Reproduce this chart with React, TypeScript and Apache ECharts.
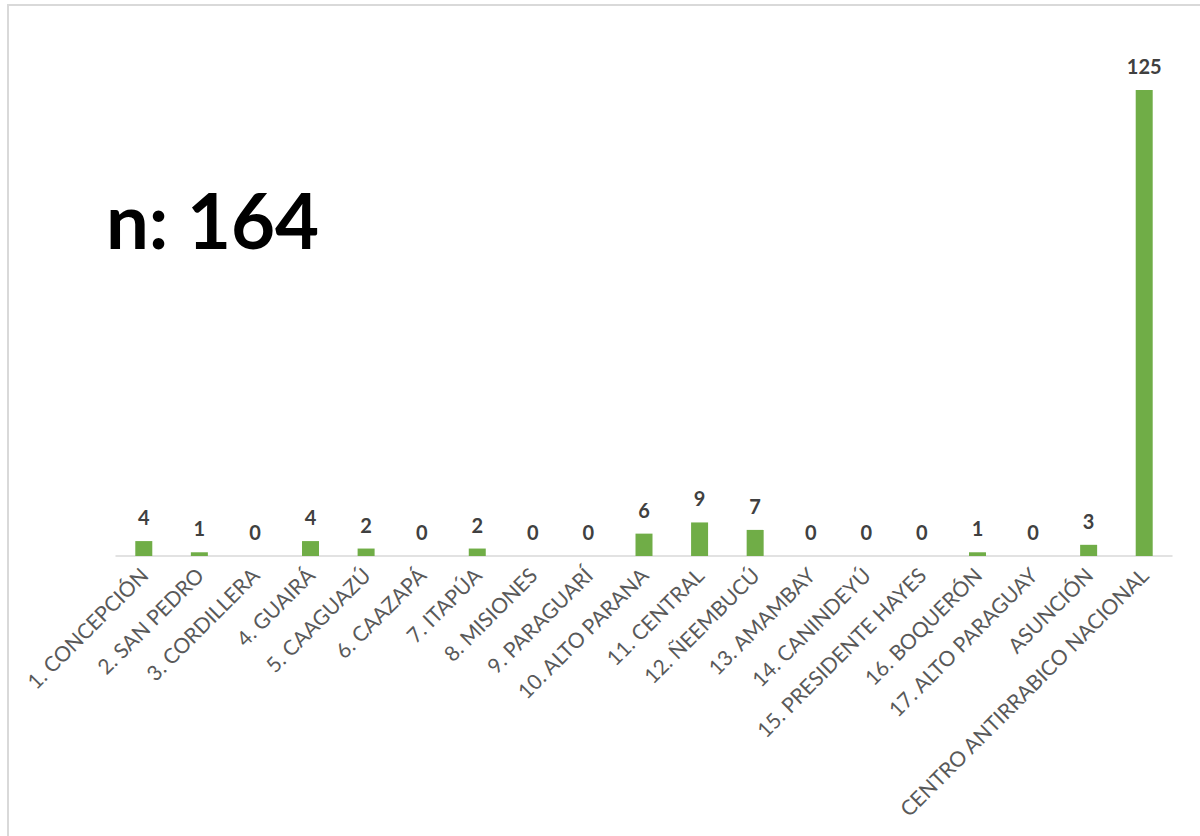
import React, { useEffect, useRef } from "react";
import * as echarts from "echarts";

const categories = [
  "1. CONCEPCIÓN",
  "2. SAN PEDRO",
  "3. CORDILLERA",
  "4. GUAIRÁ",
  "5. CAAGUAZÚ",
  "6. CAAZAPÁ",
  "7. ITAPÚA",
  "8. MISIONES",
  "9. PARAGUARÍ",
  "10. ALTO PARANA",
  "11. CENTRAL",
  "12. ÑEEMBUCÚ",
  "13. AMAMBAY",
  "14. CANINDEYÚ",
  "15. PRESIDENTE HAYES",
  "16. BOQUERÓN",
  "17. ALTO PARAGUAY",
  "ASUNCIÓN",
  "CENTRO ANTIRRABICO NACIONAL",
];
const values = [4, 1, 0, 4, 2, 0, 2, 0, 0, 6, 9, 7, 0, 0, 0, 1, 0, 3, 125];
const annotation = "n: 164";

export default function App() {
  const ref = useRef<HTMLDivElement>(null);
  useEffect(() => {
    if (!ref.current) return;
    const chart = echarts.init(ref.current, undefined, { renderer: "svg" });
    chart.setOption({
      animation: false,
      backgroundColor: "#ffffff",
      textStyle: { fontFamily: "Lato" },
      grid: { left: 116, right: 28, top: 34, bottom: 280 },
      xAxis: {
        type: "category",
        data: categories,
        axisLine: { show: true, lineStyle: { color: "#d9d9d9", width: 1.5 } },
        axisTick: { show: false },
        axisLabel: {
          rotate: 45,
          interval: 0,
          margin: 15,
          color: "#595959",
          fontSize: 21,
          fontFamily: "Lato",
        },
      },
      yAxis: {
        type: "value",
        min: 0,
        max: 140,
        show: false,
        splitLine: { show: false },
      },
      series: [
        {
          type: "bar",
          data: values,
          barWidth: 17,
          itemStyle: { color: "#70ad47" },
          label: {
            show: true,
            position: "top",
            distance: 14,
            color: "#404040",
            fontSize: 20,
            fontWeight: "bold",
            fontFamily: "Lato",
          },
        },
      ],
      graphic: [
        {
          type: "rect",
          shape: { x: 8, y: 5, width: 1400, height: 1000 },
          style: { fill: "none", stroke: "#d9d9d9", lineWidth: 2 },
          silent: true,
        },
        {
          type: "text",
          left: 106,
          top: 181,
          style: {
            text: annotation,
            font: "bold 76px Lato",
            fill: "#000000",
          },
        },
      ],
    });
    return () => chart.dispose();
  }, []);
  return (
    <div
      ref={ref}
      style={{ position: "fixed", left: 0, top: 0, width: 1200, height: 836 }}
    />
  );
}
